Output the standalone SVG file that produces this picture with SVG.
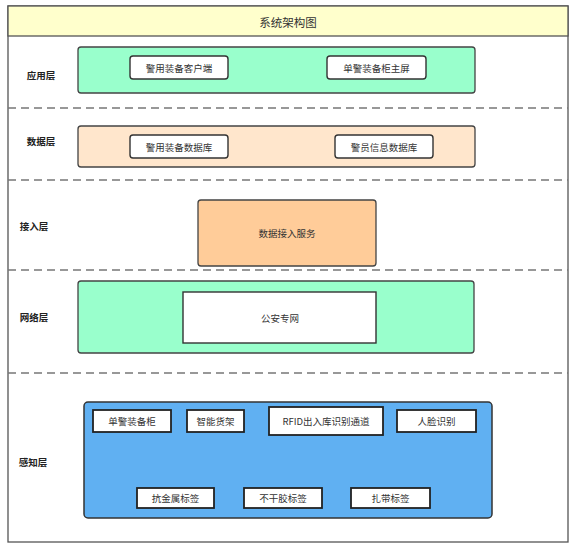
<svg xmlns="http://www.w3.org/2000/svg" width="575" height="552" viewBox="0 0 575 552">
<style>
text{font-family:"Noto Sans CJK SC","Liberation Sans",sans-serif;fill:#333;text-anchor:middle;dominant-baseline:central}
.lbl{font-size:9.5px}
.layer{font-size:9.5px;font-weight:bold;fill:#222}
.title{font-size:11.5px}
.sep{stroke:#777;stroke-width:1.3;stroke-dasharray:8 5;fill:none}
.band{stroke:#444;stroke-width:1.3}
.inner{fill:#fff;stroke:#333;stroke-width:1.4}
.tile{fill:#fff;stroke:#222;stroke-width:1.8}
</style>
<rect width="575" height="552" fill="#fff"/>
<g id="frame">
<rect x="8" y="6" width="560" height="536" fill="#fff" stroke="#555" stroke-width="1.3"/>
<rect x="8" y="6" width="560" height="30" fill="#FFFFCC" stroke="#555" stroke-width="1.3"/>
<text class="title" x="288" y="22">系统架构图</text>
</g>
<g id="separators">
<line class="sep" x1="8" y1="108" x2="568" y2="108"/>
<line class="sep" x1="8" y1="180" x2="568" y2="180"/>
<line class="sep" x1="8" y1="270" x2="568" y2="270"/>
<line class="sep" x1="8" y1="373" x2="568" y2="373"/>
</g>
<g id="layer-labels">
<text class="layer" x="41" y="75">应用层</text>
<text class="layer" x="41" y="141">数据层</text>
<text class="layer" x="34" y="226">接入层</text>
<text class="layer" x="34" y="317">网络层</text>
<text class="layer" x="33" y="462">感知层</text>
</g>
<g id="app-layer">
<rect class="band" x="78" y="47" width="397" height="46" rx="3" fill="#99FFCC"/>
<g id="app-client"><rect class="inner" x="130" y="56" width="98" height="23" rx="3"/><text class="lbl" x="179" y="68">警用装备客户端</text></g>
<g id="app-cabinet-screen"><rect class="inner" x="327" y="56" width="99" height="23" rx="3"/><text class="lbl" x="376.5" y="68">单警装备柜主屏</text></g>
</g>
<g id="data-layer">
<rect class="band" x="78" y="126" width="397" height="41" rx="3" fill="#FFE6CC"/>
<g id="db-equipment"><rect class="inner" x="130" y="135" width="98" height="23" rx="3"/><text class="lbl" x="179" y="147">警用装备数据库</text></g>
<g id="db-police"><rect class="inner" x="335" y="135" width="98" height="23" rx="3"/><text class="lbl" x="384" y="147">警员信息数据库</text></g>
</g>
<g id="access-layer">
<rect class="band" x="198" y="200" width="178" height="66" rx="3" fill="#FFCC99"/>
<text class="lbl" x="287" y="233">数据接入服务</text>
</g>
<g id="network-layer">
<rect class="band" x="78" y="281" width="396" height="72" rx="3" fill="#99FFCC"/>
<g id="net-private"><rect class="inner" x="183" y="292" width="193" height="51"/><text class="lbl" x="280" y="318">公安专网</text></g>
</g>
<g id="sense-layer">
<rect x="84" y="402" width="408" height="116" rx="4" fill="#60B0F2" stroke="#333" stroke-width="1.5"/>
<g id="s-cabinet"><rect class="tile" x="93" y="410" width="78" height="22"/><text class="lbl" x="132" y="421">单警装备柜</text></g>
<g id="s-shelf"><rect class="tile" x="187" y="410" width="57" height="22"/><text class="lbl" x="215.5" y="421">智能货架</text></g>
<g id="s-rfid"><rect class="tile" x="269" y="407" width="114" height="28"/><text class="lbl" x="326" y="421">RFID出入库识别通道</text></g>
<g id="s-face"><rect class="tile" x="397" y="410" width="79" height="22"/><text class="lbl" x="436.5" y="421">人脸识别</text></g>
<g id="s-metal"><rect class="tile" x="137" y="488" width="77" height="20"/><text class="lbl" x="175.5" y="498">抗金属标签</text></g>
<g id="s-adhesive"><rect class="tile" x="244" y="488" width="78" height="20"/><text class="lbl" x="283" y="498">不干胶标签</text></g>
<g id="s-tie"><rect class="tile" x="351" y="488" width="79" height="20"/><text class="lbl" x="390.5" y="498">扎带标签</text></g>
</g>
<g id="connectors"></g>
</svg>
